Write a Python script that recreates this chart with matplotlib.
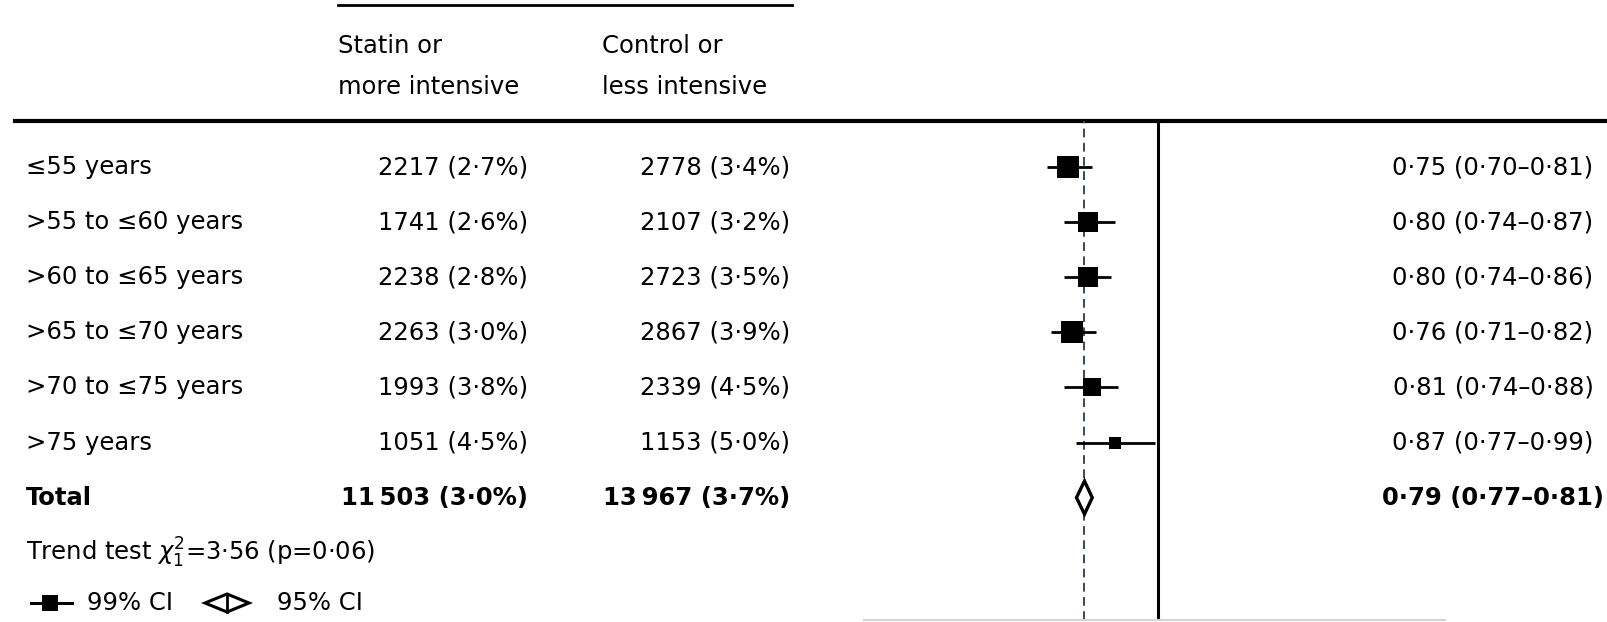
import numpy as np
import matplotlib.pyplot as plt
import matplotlib.transforms as mtransforms
from matplotlib.patches import Polygon

plt.rcParams["font.family"] = ["DejaVu Sans"]
plt.rcParams["mathtext.fontset"] = "dejavusans"

# age groups and event counts (% per year)
groups = [
    "≤55 years",
    ">55 to ≤60 years",
    ">60 to ≤65 years",
    ">65 to ≤70 years",
    ">70 to ≤75 years",
    ">75 years",
]
statin_events = [2217, 1741, 2238, 2263, 1993, 1051]
statin_pct = [2.7, 2.6, 2.8, 3.0, 3.8, 4.5]
control_events = [2778, 2107, 2723, 2867, 2339, 1153]
control_pct = [3.4, 3.2, 3.5, 3.9, 4.5, 5.0]

# rate ratios with confidence limits
rr = [0.75, 0.80, 0.80, 0.76, 0.81, 0.87]
ci_low = [0.70, 0.74, 0.74, 0.71, 0.74, 0.77]
ci_high = [0.81, 0.87, 0.86, 0.82, 0.88, 0.99]

total_events = [11503, 13967]
total_pct = [3.0, 3.7]
total_rr = 0.79
total_low = 0.77
total_high = 0.81

trend_text = r"Trend test $\chi^2_1$=3·56 (p=0·06)"


def dec(x, nd=2):
    return f"{x:.{nd}f}".replace(".", "·")


def count(n):
    s = f"{n:,}"
    return s.replace(",", "\u2009") if n >= 10000 else s.replace(",", "")


W, H = 1607, 622
fig = plt.figure(figsize=(W / 100, H / 100), dpi=100)

# full-figure layer in pixels for rules, headers and legend keys
lay = fig.add_axes([0, 0, 1, 1])
lay.set_xlim(0, W)
lay.set_ylim(H, 0)
lay.axis("off")

# forest panel, log ratio scale
ax = fig.add_axes([864 / W, 2 / H, 581 / W, 499 / H])
ax.set_xscale("log")
ax.set_xlim(0.3895, 2.511)
ax.set_ylim(8.221, -0.835)
ax.set_xticks([])
ax.set_yticks([])
ax.minorticks_off()
for side in ["top", "left", "right"]:
    ax.spines[side].set_visible(False)
ax.spines["bottom"].set_color("#d4d4d4")
ax.spines["bottom"].set_linewidth(1.5)
ax.patch.set_alpha(0)

ax.axvline(1.0, color="black", lw=2.2, zorder=2)
ax.axvline(total_rr, color="#3b4856", lw=1.4, dashes=(4.5, 2.8), zorder=1)

rows = np.arange(len(groups))
for y, est, lo, hi in zip(rows, rr, ci_low, ci_high):
    ax.plot([lo, hi], [y, y], color="black", lw=2.0, solid_capstyle="butt", zorder=3)
    # box side proportional to inverse standard error
    side_px = 3.1 / np.log(hi / lo)
    ax.plot(est, y, marker="s", ms=side_px * 0.72, color="black", mew=0, zorder=4)

ty = len(groups)
diamond = Polygon(
    [(total_low, ty), (total_rr, ty - 0.3), (total_high, ty), (total_rr, ty + 0.3)],
    closed=True, facecolor="white", edgecolor="black", lw=2.4, zorder=4,
)
ax.add_patch(diamond)

# text columns: x in pixels, y in row units
tr = mtransforms.blended_transform_factory(lay.transData, ax.transData)
fs = 17.5
for y, g, se, sp, ce, cp, est, lo, hi in zip(
    rows, groups, statin_events, statin_pct, control_events, control_pct, rr, ci_low, ci_high
):
    ax.text(26, y, g, transform=tr, ha="left", va="center", fontsize=fs)
    ax.text(528, y, f"{count(se)} ({dec(sp, 1)}%)", transform=tr, ha="right", va="center", fontsize=fs)
    ax.text(790, y, f"{count(ce)} ({dec(cp, 1)}%)", transform=tr, ha="right", va="center", fontsize=fs)
    ax.text(1493, y, f"{dec(est)} ({dec(lo)}–{dec(hi)})", transform=tr, ha="center", va="center", fontsize=fs)

ax.text(26, ty, "Total", transform=tr, ha="left", va="center", fontsize=fs, fontweight="bold")
ax.text(528, ty, f"{count(total_events[0])} ({dec(total_pct[0], 1)}%)", transform=tr,
        ha="right", va="center", fontsize=fs, fontweight="bold")
ax.text(790, ty, f"{count(total_events[1])} ({dec(total_pct[1], 1)}%)", transform=tr,
        ha="right", va="center", fontsize=fs, fontweight="bold")
ax.text(1493, ty, f"{dec(total_rr)} ({dec(total_low)}–{dec(total_high)})", transform=tr,
        ha="center", va="center", fontsize=fs, fontweight="bold")
ax.text(26, ty + 1, trend_text, transform=tr, ha="left", va="center", fontsize=fs)

# column headers and rules
lay.plot([338, 792], [5, 5], color="black", lw=2.0)
lay.plot([15, W], [121, 121], color="black", lw=3.0)
lay.text(338, 46, "Statin or", ha="left", va="center", fontsize=fs)
lay.text(338, 87, "more intensive", ha="left", va="center", fontsize=fs)
lay.text(602, 46, "Control or", ha="left", va="center", fontsize=fs)
lay.text(602, 87, "less intensive", ha="left", va="center", fontsize=fs)

# key for the two interval types
ky = 603
lay.plot([31, 72], [ky, ky], color="black", lw=2.2)
lay.plot(50, ky, marker="s", ms=11.5, color="black", mew=0)
lay.text(87, ky, "99% CI", ha="left", va="center", fontsize=fs)
lay.add_patch(Polygon([(205, ky), (227, ky - 9), (249, ky), (227, ky + 9)],
                      closed=True, facecolor="white", edgecolor="black", lw=2.2))
lay.plot([227, 227], [ky - 9, ky + 9], color="black", lw=2.0)
lay.text(277, ky, "95% CI", ha="left", va="center", fontsize=fs)

fig.savefig("out.png", dpi=100)
